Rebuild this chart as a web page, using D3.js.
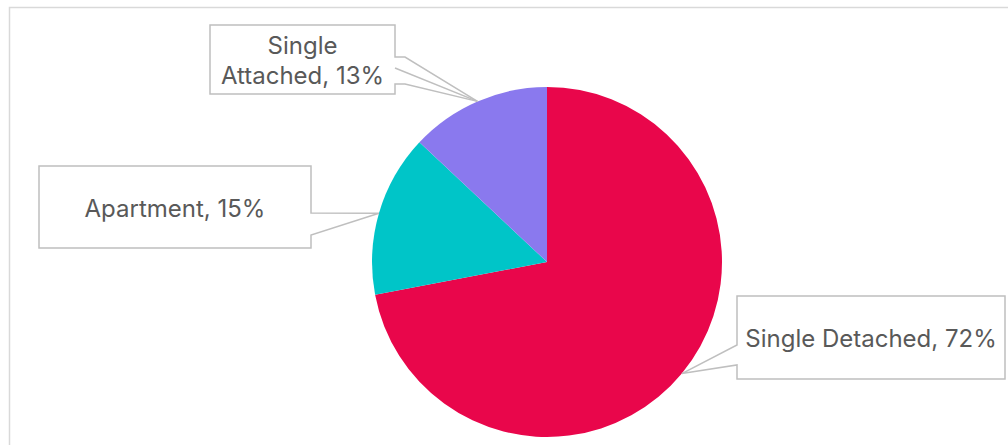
<!DOCTYPE html>
<html>
<head>
<meta charset="utf-8">
<script src="https://cdn.jsdelivr.net/npm/d3@7"></script>
<style>
  body { margin: 0; background: #fff; }
  text { font-family: Inter, "Open Sans", sans-serif; fill: #595959; }
</style>
</head>
<body>
<script>
// données du graphique
var categories = ["Single Detached", "Apartment", "Single Attached"];
var values = [72, 15, 13];
var colors = ["#E9064B", "#00C5C8", "#8A79EE"];

// placement des étiquettes (boîtes callout)
var boxes = [
  { x: 737, y: 296, w: 268, h: 83, side: "left", a: 345, b: 365, lines: ["Single Detached, 72%"] },
  { x: 39, y: 166, w: 272, h: 82, side: "right", a: 213, b: 235, off: 0, lines: ["Apartment, 15%"] },
  { x: 210, y: 25, w: 185, h: 69, side: "right", a: 57, b: 84, off: 10, mid: 68, lines: ["Single", "Attached, 13%"] }
];

var width = 1008, height = 445;
var cx = 547, cy = 262, r = 175;

var svg = d3.select("body").append("svg")
  .attr("width", width)
  .attr("height", height);

// cadre extérieur
svg.append("rect")
  .attr("x", 9.5).attr("y", 7.5)
  .attr("width", 1010).attr("height", 450)
  .attr("fill", "none")
  .attr("stroke", "#d9d9d9")
  .attr("stroke-width", 1.5);

var pie = d3.pie().sort(null).value(function(d) { return d; });
var arcs = pie(values);
var arc = d3.arc().innerRadius(0).outerRadius(r);
var tipArc = d3.arc().innerRadius(r).outerRadius(r);

var g = svg.append("g").attr("transform", "translate(" + cx + "," + cy + ")");
g.selectAll("path")
  .data(arcs)
  .enter().append("path")
  .attr("d", arc)
  .attr("fill", function(d, i) { return colors[i]; });

// étiquettes
for (var i = 0; i < arcs.length; i++) {
  var b = boxes[i];
  var c = tipArc.centroid(arcs[i]);
  var tx = cx + c[0], ty = cy + c[1];
  var p = d3.path();
  if (b.side == "right") {
    var ex = b.x + b.w;
    p.moveTo(b.x, b.y);
    p.lineTo(ex, b.y);
    p.lineTo(ex, b.a);
    p.lineTo(ex + b.off, b.a);
    p.lineTo(tx, ty);
    p.lineTo(ex + b.off, b.b);
    p.lineTo(ex, b.b);
    p.lineTo(ex, b.y + b.h);
    p.lineTo(b.x, b.y + b.h);
    p.closePath();
  } else {
    p.moveTo(b.x, b.y);
    p.lineTo(b.x + b.w, b.y);
    p.lineTo(b.x + b.w, b.y + b.h);
    p.lineTo(b.x, b.y + b.h);
    p.lineTo(b.x, b.b);
    p.lineTo(tx, ty);
    p.lineTo(b.x, b.a);
    p.closePath();
  }
  svg.append("path")
    .attr("d", p.toString())
    .attr("fill", "#fff")
    .attr("stroke", "#bfbfbf")
    .attr("stroke-width", 1.5)
    .attr("stroke-linejoin", "miter");

  if (b.mid) {
    svg.append("line")
      .attr("x1", b.x + b.w).attr("y1", b.mid)
      .attr("x2", tx).attr("y2", ty)
      .attr("stroke", "#bfbfbf")
      .attr("stroke-width", 1.5);
  }

  var lh = 30;
  var y0 = b.y + b.h / 2 + 1 - (b.lines.length - 1) * lh / 2;
  for (var j = 0; j < b.lines.length; j++) {
    svg.append("text")
      .attr("x", b.x + b.w / 2)
      .attr("y", y0 + j * lh)
      .attr("dy", "0.36em")
      .attr("text-anchor", "middle")
      .style("font-size", "24px")
      .text(b.lines[j]);
  }
}
</script>
</body>
</html>
